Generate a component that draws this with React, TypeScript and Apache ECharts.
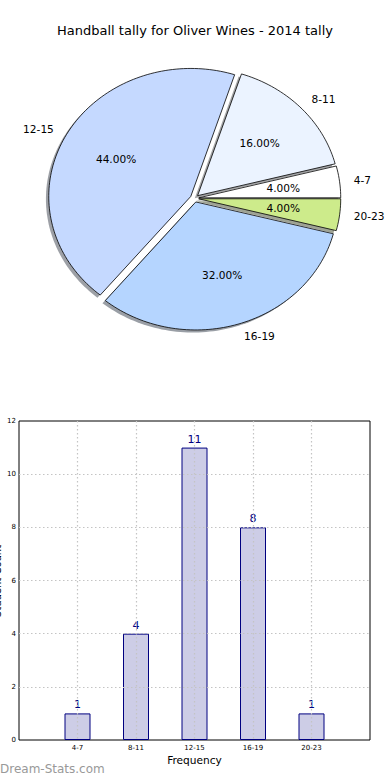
import React, { useEffect, useRef } from "react";
import * as echarts from "echarts";

const titleText = "Handball tally for Oliver Wines - 2014 tally";
const categories = ["4-7", "8-11", "12-15", "16-19", "20-23"];
const counts = [1, 4, 11, 8, 1];
const sliceColors = ["#ffffff", "#ebf3ff", "#c5d9ff", "#b5d5ff", "#cdeb8b"];
const yTicks = [0, 2, 4, 6, 8, 10, 12];
const xAxisTitle = "Frequency";
const yAxisTitle = "Student Count";
const watermark = "Dream-Stats.com";

const FONT = "DejaVu Sans";
const PIE = { cx: 194.5, cy: 198.3, rx: 142, ry: 128, explode: 0.03, shadow: 0.02 };

function shadowOf(hex: string): string {
  const n = parseInt(hex.slice(1), 16);
  const r = Math.round(((n >> 16) & 255) * 0.3);
  const g = Math.round(((n >> 8) & 255) * 0.3);
  const b = Math.round((n & 255) * 0.3);
  return `rgba(${r},${g},${b},0.5)`;
}

export default function App() {
  const ref = useRef<HTMLDivElement>(null);
  useEffect(() => {
    document.body.style.margin = "0";
    if (!ref.current) return;
    const chart = echarts.init(ref.current, undefined, { renderer: "svg" });
    const total = counts.reduce((a, b) => a + b, 0);

    const renderItem = (params: any, api: any) => {
      const i = params.dataIndex;
      let start = 0;
      for (let j = 0; j < i; j++) start += counts[j] / total;
      const frac = api.value(0) / total;
      const t1 = start * 2 * Math.PI;
      const t2 = (start + frac) * 2 * Math.PI;
      const tm = (t1 + t2) / 2;
      const c = Math.cos(tm);
      const s = Math.sin(tm);
      const ox = PIE.cx + PIE.explode * PIE.rx * c;
      const oy = PIE.cy - PIE.explode * PIE.ry * s;
      const pts: number[][] = [[ox, oy]];
      const N = Math.max(4, Math.ceil((t2 - t1) / (Math.PI / 120)));
      for (let k = 0; k <= N; k++) {
        const t = t1 + ((t2 - t1) * k) / N;
        pts.push([ox + PIE.rx * Math.cos(t), oy - PIE.ry * Math.sin(t)]);
      }
      const sdx = -PIE.shadow * PIE.rx;
      const sdy = PIE.shadow * PIE.ry;
      const spts = pts.map((p) => [p[0] + sdx, p[1] + sdy]);
      const color = sliceColors[i];
      return {
        type: "group",
        children: [
          { type: "polygon", shape: { points: spts }, style: { fill: shadowOf(color) }, z2: 0, silent: true },
          { type: "polygon", shape: { points: pts }, style: { fill: color, stroke: "#000", lineWidth: 0.8 }, z2: 10 },
          {
            type: "text",
            z2: 20,
            style: {
              text: ((api.value(0) / total) * 100).toFixed(2) + "%",
              x: ox + 0.6 * PIE.rx * c,
              y: oy - 0.6 * PIE.ry * s,
              align: "center",
              verticalAlign: "middle",
              fontSize: 10.6,
              fontFamily: FONT,
              fill: "#000",
            },
          },
          {
            type: "text",
            z2: 20,
            style: {
              text: categories[i],
              x: ox + 1.1 * PIE.rx * c,
              y: oy - 1.1 * PIE.ry * s,
              align: c > 0 ? "left" : "right",
              verticalAlign: "middle",
              fontSize: 10.6,
              fontFamily: FONT,
              fill: "#000",
            },
          },
        ],
      };
    };

    const option: any = {
      animation: false,
      backgroundColor: "#fff",
      textStyle: { fontFamily: FONT },
      title: {
        text: titleText,
        left: "center",
        top: 19,
        textStyle: { fontSize: 13, fontWeight: "normal", color: "#000", fontFamily: FONT },
      },
      grid: {
        left: 19,
        right: 20,
        top: 421,
        bottom: 40,
        show: true,
        borderColor: "#000",
        borderWidth: 1,
        backgroundColor: "transparent",
      },
      xAxis: {
        type: "value",
        min: 0,
        max: 6,
        interval: 1,
        z: 5,
        axisLine: { show: false },
        axisTick: { show: false },
        axisLabel: {
          formatter: (v: number) => categories[v - 1] ?? "",
          fontSize: 7,
          color: "#000",
          margin: 4,
          fontFamily: FONT,
        },
        splitLine: {
          show: true,
          showMinLine: false,
          showMaxLine: false,
          lineStyle: { color: "#c4c4c4", type: [1.5, 2.5], width: 1.2 },
        },
        name: xAxisTitle,
        nameLocation: "middle",
        nameGap: 14,
        nameTextStyle: { fontSize: 10.6, color: "#000", fontFamily: FONT, verticalAlign: "top" },
      },
      yAxis: {
        type: "value",
        min: yTicks[0],
        max: yTicks[yTicks.length - 1],
        interval: yTicks[1] - yTicks[0],
        z: 5,
        axisLine: { show: false },
        axisTick: { show: false },
        axisLabel: { fontSize: 7, color: "#000", margin: 3, fontFamily: FONT },
        splitLine: {
          show: true,
          showMinLine: false,
          showMaxLine: false,
          lineStyle: { color: "#c4c4c4", type: [1.5, 2.5], width: 1.2 },
        },
      },
      graphic: [
        {
          type: "text",
          x: -2.5,
          y: 581,
          rotation: Math.PI / 2,
          style: {
            text: yAxisTitle,
            align: "center",
            verticalAlign: "middle",
            fontSize: 10,
            fontFamily: FONT,
            fill: "#000",
          },
        },
        {
          type: "text",
          left: 0,
          top: 763,
          style: { text: watermark, fontSize: 12, fontFamily: FONT, fill: "#999" },
        },
      ],
      series: [
        {
          type: "custom",
          coordinateSystem: "none",
          renderItem,
          data: counts.map((v, i) => [v, i]),
          silent: true,
        },
        {
          type: "bar",
          data: counts.map((v, i) => [i + 1, v]),
          barWidth: 26,
          itemStyle: { color: "#cdcde6", borderColor: "#000080", borderWidth: 1 },
          label: { show: true, position: "top", distance: 3, color: "#000080", fontSize: 11, fontFamily: FONT },
        },
      ],
    };
    chart.setOption(option);
    return () => chart.dispose();
  }, []);
  return <div ref={ref} style={{ width: 390, height: 780 }} />;
}
